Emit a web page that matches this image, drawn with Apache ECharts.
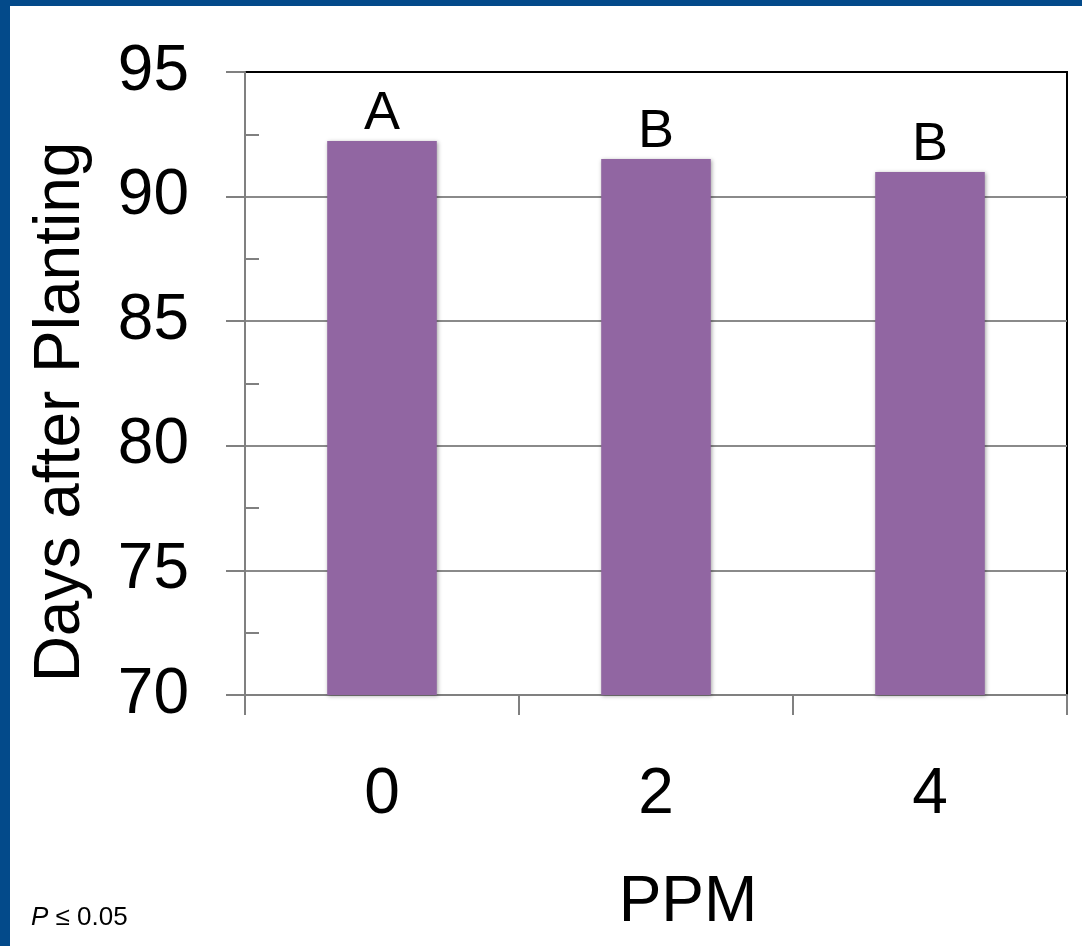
<!DOCTYPE html>
<html><head><meta charset="utf-8">
<script src="https://cdn.jsdelivr.net/npm/echarts@6/dist/echarts.min.js"></script>
<style>html,body{margin:0;padding:0;background:#fff;}#c{width:1082px;height:946px;}</style>
</head><body><div id="c"></div>
<script>
const categories = ['0', '2', '4'];
const values = [92.23, 91.51, 90.99];
const letters = ['A', 'B', 'B'];
const yMin = 70, yMax = 95, yStep = 5;
const xTitle = 'PPM';
const yTitle = 'Days after Planting';

const chart = echarts.init(document.getElementById('c'), null, {renderer: 'canvas'});
const font = '"Liberation Sans", Arial, sans-serif';
chart.setOption({
  backgroundColor: '#ffffff',
  animation: false,
  textStyle: {fontFamily: font},
  grid: {left: 245, right: 15, top: 72, bottom: 251, show: true, borderColor: '#000', borderWidth: 2, backgroundColor: 'transparent'},
  xAxis: {
    type: 'category', data: categories,
    axisLine: {lineStyle: {color: '#808080', width: 2}},
    axisTick: {show: true, alignWithLabel: false, length: 20, lineStyle: {color: '#808080', width: 2}},
    axisLabel: {color: '#000', fontSize: 64, margin: 68, fontFamily: font}
  },
  yAxis: {
    type: 'value', min: yMin, max: yMax, interval: yStep,
    axisLine: {show: true, lineStyle: {color: '#808080', width: 2}},
    axisTick: {show: true, length: 19, lineStyle: {color: '#808080', width: 2}},
    minorTick: {show: true, splitNumber: 2, length: -14, lineStyle: {color: '#808080', width: 2}},
    splitLine: {show: true, showMaxLine: false, lineStyle: {color: '#8a8a8a', width: 2}},
    axisLabel: {color: '#000', fontSize: 64, margin: 56, fontFamily: font}
  },
  series: [{
    type: 'bar', data: values, barWidth: '40%',
    itemStyle: {color: '#9166a2', shadowBlur: 4, shadowColor: 'rgba(0,0,0,0.35)', shadowOffsetX: 1, shadowOffsetY: 1},
    label: {show: true, position: 'top', distance: 0, color: '#000', fontSize: 54, fontFamily: font,
      formatter: p => letters[p.dataIndex]}
  }],
  graphic: [
    {type: 'rect', left: 0, top: 0, shape: {width: 1082, height: 6}, style: {fill: '#034a8a'}, z: 100},
    {type: 'rect', left: 0, top: 0, shape: {width: 10, height: 946}, style: {fill: '#034a8a'}, z: 100},
    {type: 'text', x: 61, y: 412, rotation: Math.PI / 2, z: 100, style: {
      text: yTitle, font: '64px ' + font, fill: '#000', align: 'center', verticalAlign: 'middle'
    }},
    {type: 'text', x: 688, y: 903, z: 100, style: {
      text: xTitle, font: '64px ' + font, fill: '#000', align: 'center', verticalAlign: 'middle'
    }},
    {type: 'text', x: 31, y: 918, z: 100, style: {
      text: '{i|P} ≤ 0.05', font: '26px ' + font, fill: '#000', verticalAlign: 'middle',
      rich: {i: {fontStyle: 'italic', fontSize: 26, fontFamily: font, fill: '#000'}}
    }}
  ]
});
</script></body></html>
